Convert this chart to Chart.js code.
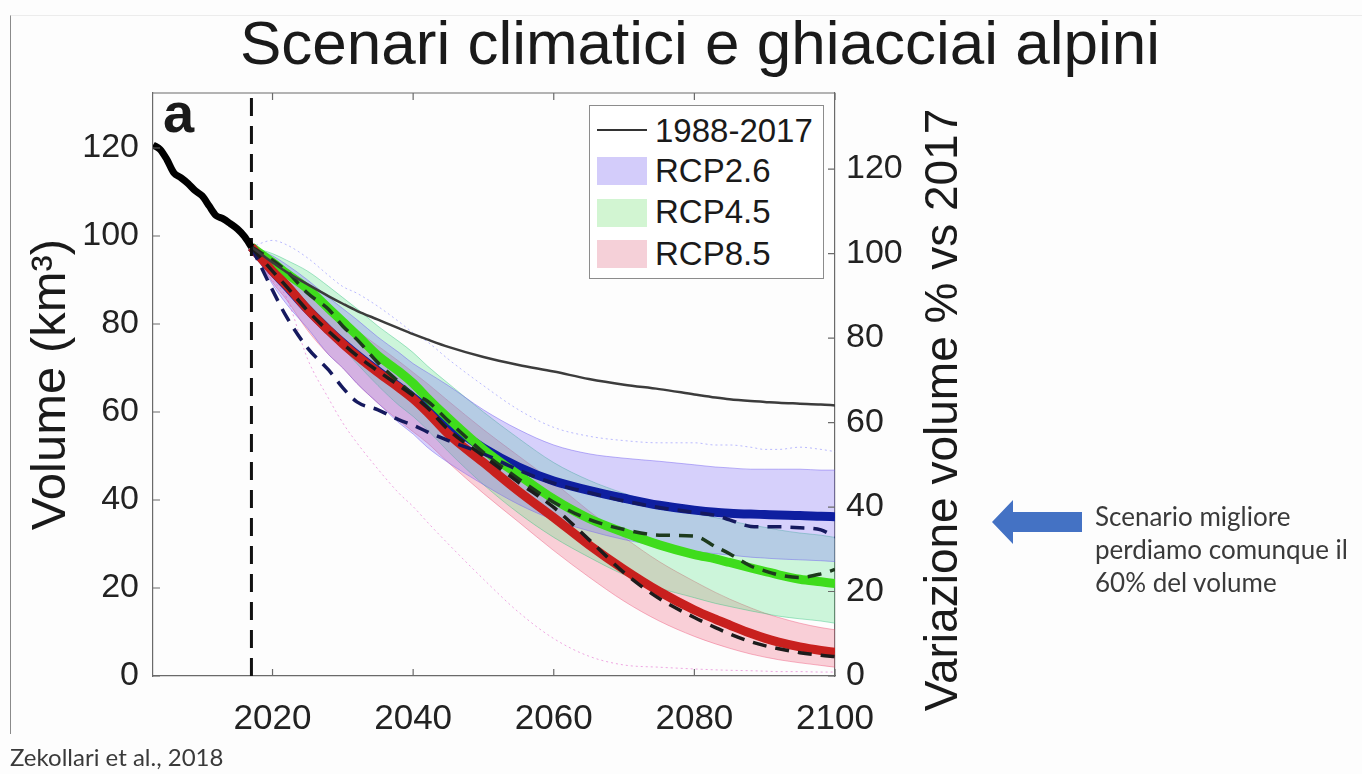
<!DOCTYPE html>
<html lang="it">
<head>
<meta charset="utf-8">
<title>Scenari climatici e ghiacciai alpini</title>
<script src="https://cdn.jsdelivr.net/npm/chart.js@4.4.1/dist/chart.umd.min.js"></script>
<style>
  body { margin: 0; background: #fdfdfd; }
  #slide { position: relative; width: 1362px; height: 774px; overflow: hidden;
           font-family: 'Liberation Sans', Arial, sans-serif; color: #1a1a1a; }
  #slide canvas { position: absolute; left: 0; top: 0; }
  .frame { position: absolute; left: 10px; top: 15px; right: 0; height: 718px;
           border-left: 1.5px solid #8a8a8a; border-top: 1px solid #ececec; }
  h1 { position: absolute; margin: 0; left: 200px; width: 1000px; top: 12px;
       font-weight: normal; font-size: 62px; line-height: 62px; text-align: center; }
  .panel { position: absolute; left: 163px; top: 85px; font-weight: bold; font-size: 56px; line-height: 56px; }
  #legend { position: absolute; left: 589px; top: 105px; width: 233px; height: 172px;
            border: 1px solid #8c8c8c; background: #fff; }
  #legend .txt { position: absolute; left: 65px; font-size: 33px; line-height: 33px; white-space: nowrap; }
  #legend .sw { position: absolute; left: 7px; width: 50px; height: 28px; }
  #legend .ln { position: absolute; left: 7px; top: 23px; width: 50px; height: 2px; background: #333; }
  .ytitle2 { position: absolute; left: 941px; top: 410px; width: 640px; height: 46px;
             font-size: 46px; line-height: 46px; text-align: center; white-space: nowrap;
             transform: translate(-50%, -50%) rotate(-90deg); }
  .note { position: absolute; left: 1095px; top: 500px; font-family: Lato, sans-serif;
          font-size: 26px; line-height: 33px; color: #3a3a3a; }
  .source { position: absolute; left: 10px; top: 745px; font-family: Lato, sans-serif;
            font-size: 24px; line-height: 24px; color: #3a3a3a; }
  svg.arrow { position: absolute; left: 990px; top: 498px; }
</style>
</head>
<body>
<div id="slide">
  <div class="frame"></div>
  <canvas id="glacierChart" width="1362" height="774"></canvas>
  <h1>Scenari climatici e ghiacciai alpini</h1>
  <div class="panel">a</div>
  <div id="legend">
    <div class="ln"></div><div class="txt" style="top:8px">1988-2017</div>
    <div class="sw" style="top:51px;background:#d3ccfa"></div><div class="txt" style="top:48px">RCP2.6</div>
    <div class="sw" style="top:93px;background:#d2f5d2"></div><div class="txt" style="top:89px">RCP4.5</div>
    <div class="sw" style="top:134px;background:#f5d0d8"></div><div class="txt" style="top:131px">RCP8.5</div>
  </div>
  <div class="ytitle2">Variazione volume % vs 2017</div>
  <svg class="arrow" width="95" height="48"><polygon points="2,24 23,2 23,14 92,14 92,34 23,34 23,46" fill="#4472c4"/></svg>
  <div class="note">Scenario migliore<br>perdiamo comunque il<br>60% del volume</div>
  <div class="source">Zekollari et al., 2018</div>
</div>
<script>
// observed volume (km3)
const histYears = [2003, 2004, 2005, 2006, 2007, 2008, 2009, 2010, 2011, 2012, 2013, 2014, 2015, 2016, 2017];
const histVolume = [120.7, 119.7, 117.3, 114.3, 113.2, 111.9, 110.3, 109.1, 106.8, 104.6, 103.9, 102.8, 101.6, 99.9, 97.5];

// projections
const projYears = [2017, 2020, 2022, 2025, 2028, 2030, 2032, 2035, 2038, 2040, 2042, 2045, 2050, 2055, 2060, 2065, 2070, 2075, 2080, 2083, 2085, 2088, 2090, 2092, 2095, 2098, 2100];
const trend8817 = [97.5, 94, 91.8, 89, 86.3, 84.6, 83, 81, 79, 77.7, 76.5, 74.8, 72.5, 70.7, 69.2, 67.5, 66.2, 65.2, 64, 63.3, 62.9, 62.5, 62.3, 62.1, 61.9, 61.7, 61.5];

const rcp26Mean = [97.5, 92, 88.6, 83.3, 78.6, 75.7, 73, 69.3, 65.7, 63.3, 60.8, 57.3, 51.8, 47.5, 44.3, 42.2, 40.4, 38.8, 37.7, 37.2, 37, 36.8, 36.7, 36.6, 36.5, 36.3, 36.2];
const rcp26Dash = [97.5, 87.7, 81.6, 74.5, 69.5, 65.5, 62.3, 60.5, 58.2, 57, 55.5, 53.5, 50.5, 46.8, 43.8, 41.7, 39.8, 38.3, 37.2, 36.5, 35.5, 34, 33.9, 33.9, 33.7, 33.2, 31.6];
const rcp26Upper = [97.5, 95.5, 93.5, 90, 86, 83.5, 81, 77, 73.5, 71, 69, 66, 60.5, 56, 52.5, 50.5, 49.5, 48.8, 48, 47.5, 47.3, 47, 47, 47, 47, 46.8, 46.8];
const rcp26Lower = [97.5, 89, 84.5, 79, 73, 70, 66.5, 62, 57.5, 55, 52, 48.5, 43.5, 39, 35.5, 33, 31, 29.5, 28.3, 27.8, 27.5, 27, 26.8, 26.6, 26.4, 26.2, 26];

const rcp45Mean = [97.5, 94, 91.5, 88, 83.5, 80.5, 77.5, 72.8, 69.2, 66.5, 63.2, 58.6, 51.5, 45.7, 40.2, 35.8, 32.6, 29.8, 27.6, 26.6, 25.8, 24.6, 23.8, 23, 22, 21.4, 21];
const rcp45Dash = [97.5, 94.5, 92, 87, 83.3, 79.5, 76.5, 71.2, 66.8, 64, 62.5, 58, 50.8, 44.8, 39.5, 35.6, 33.3, 32, 31.8, 29.4, 27.8, 25, 23.9, 23, 22.4, 23.2, 24.2];
const rcp45Upper = [97.5, 96, 94.5, 92, 88.5, 86, 83.5, 79.5, 76, 73.5, 70.5, 66.5, 60, 54, 48.5, 44.5, 41.5, 39, 37, 36, 35.3, 34.3, 33.8, 33.2, 32.5, 32, 31.5];
const rcp45Lower = [97.5, 91.5, 88, 83, 78, 74.5, 71, 66, 61.5, 59, 56, 51, 43.5, 37, 31.5, 27, 23, 20, 17.8, 16.5, 15.8, 14.8, 14.2, 13.6, 13, 12.5, 12];

const rcp85Mean = [97.5, 92, 88.8, 83.3, 78.5, 75.5, 72.8, 69, 65.5, 63, 60, 55, 48.5, 42, 36, 29.8, 24.2, 19.2, 15, 12.9, 11.6, 9.7, 8.6, 7.7, 6.6, 5.8, 5.4];
const rcp85Dash = [97.5, 92, 88.5, 83, 78.3, 75.5, 72.8, 69.3, 66, 63.7, 61, 56, 50, 44, 38.3, 31, 23.5, 17.6, 13.3, 11, 9.6, 7.8, 6.9, 6.2, 5.3, 4.7, 4.4];
const rcp85Upper = [97.5, 94.5, 92, 88, 83.5, 81, 78.5, 75, 71.5, 69, 66.5, 62.5, 56, 50, 44, 37.5, 31.5, 26, 21.5, 19, 17.5, 15.5, 14.3, 13.3, 12, 11, 10.5];
const rcp85Lower = [97.5, 89.5, 85.5, 78.5, 73, 70, 66.5, 62, 58, 55.5, 53, 48.5, 41.5, 35, 28.5, 22.5, 17, 12.5, 9, 7.3, 6.3, 5, 4.3, 3.7, 3, 2.4, 2];

// outermost single runs (thin faint lines)
const runHigh = [97.5, 99, 98, 95, 91, 88.5, 87, 84, 80.5, 78, 76, 72, 66, 60.5, 56.5, 54.5, 53.5, 53, 53, 52.5, 52.5, 52, 51.5, 51.5, 52, 51.5, 51];
const runLow = [97.5, 90, 86, 72, 63, 57.5, 53, 47, 41.5, 38.5, 35, 30, 22, 14.5, 8.5, 4.5, 2.5, 2, 1.6, 1.4, 1.3, 1.2, 1.1, 1, 1, 0.9, 0.9];

const refYear = 2017;
const refVolume = 96; // km3 = 100 %
const xRange = [2003, 2100];
const yRange = [0, 132.5];
const xTicks = [2020, 2040, 2060, 2080, 2100];
const yTicks = [0, 20, 40, 60, 80, 100, 120];
const pctTicks = [0, 20, 40, 60, 80, 100, 120];

const axisColor = '#6a6a6a';
const pts = (xs, ys) => ys.map((y, i) => ({x: xs[i], y: y}));

function line(label, xs, ys, color, width, extra) {
  return Object.assign({
    label: label,
    data: pts(xs, ys),
    borderColor: color,
    borderWidth: width,
    pointRadius: 0,
    fill: false,
    cubicInterpolationMode: 'monotone'
  }, extra);
}

// inward tick marks and the top edge of the box, like the original figure
const boxTicks = {
  id: 'boxTicks',
  afterDraw(chart) {
    const {ctx, chartArea: a, scales} = chart;
    ctx.save();
    ctx.strokeStyle = axisColor;
    ctx.lineWidth = 1.2;
    ctx.beginPath();
    ctx.moveTo(a.left, a.top);
    ctx.lineTo(a.right, a.top);
    scales.x.ticks.forEach(t => {
      const px = scales.x.getPixelForValue(t.value);
      ctx.moveTo(px, a.bottom); ctx.lineTo(px, a.bottom - 7);
      ctx.moveTo(px, a.top); ctx.lineTo(px, a.top + 7);
    });
    scales.y.ticks.forEach(t => {
      const py = scales.y.getPixelForValue(t.value);
      ctx.moveTo(a.left, py); ctx.lineTo(a.left + 7, py);
    });
    scales.y2.ticks.forEach(t => {
      const py = scales.y2.getPixelForValue(t.value);
      ctx.moveTo(a.right, py); ctx.lineTo(a.right - 7, py);
    });
    ctx.stroke();
    ctx.restore();
  }
};

Chart.defaults.font.family = "'Liberation Sans', Arial, sans-serif";
Chart.defaults.color = '#1e1e1e';

const ctx = document.getElementById('glacierChart').getContext('2d');
new Chart(ctx, {
  type: 'line',
  data: {
    datasets: [
      line('Osservato', histYears, histVolume, '#000', 7, {order: 1, cubicInterpolationMode: 'default', tension: 0.3}),
      {
        label: '2017',
        data: [{x: refYear, y: yRange[0]}, {x: refYear, y: yRange[1]}],
        borderColor: '#111', borderWidth: 3, borderDash: [18, 10], pointRadius: 0, order: 2
      },
      line('1988-2017', projYears, trend8817, '#3c3c3c', 2.5, {order: 3}),
      line('RCP8.5 alt', projYears, rcp85Dash, '#1c1c1c', 3.5, {borderDash: [14, 9], order: 4}),
      line('RCP4.5 alt', projYears, rcp45Dash, '#1d3a1d', 3.5, {borderDash: [14, 9], order: 4}),
      line('RCP2.6 alt', projYears, rcp26Dash, '#15195e', 3.5, {borderDash: [14, 9], order: 4}),
      line('RCP8.5', projYears, rcp85Mean, '#c8201e', 9, {order: 5}),
      line('RCP4.5', projYears, rcp45Mean, '#3fdc1c', 9, {order: 6}),
      line('RCP2.6', projYears, rcp26Mean, '#0f1fa0', 9, {order: 7}),
      line('run max', projYears, runHigh, 'rgba(120,120,255,0.5)', 1, {borderDash: [2, 3], order: 8}),
      line('run min', projYears, runLow, 'rgba(225,80,200,0.5)', 1, {borderDash: [2, 3], order: 8}),
      line('RCP2.6 max', projYears, rcp26Upper, 'rgba(110,90,240,0.45)', 1, {order: 9}),
      line('RCP2.6 min', projYears, rcp26Lower, 'rgba(110,90,240,0.45)', 1, {order: 9, fill: '-1', backgroundColor: 'rgba(125,105,250,0.3)'}),
      line('RCP4.5 max', projYears, rcp45Upper, 'rgba(40,190,120,0.4)', 1, {order: 10}),
      line('RCP4.5 min', projYears, rcp45Lower, 'rgba(40,190,120,0.4)', 1, {order: 10, fill: '-1', backgroundColor: 'rgba(80,225,130,0.28)'}),
      line('RCP8.5 max', projYears, rcp85Upper, 'rgba(235,70,110,0.4)', 1, {order: 11}),
      line('RCP8.5 min', projYears, rcp85Lower, 'rgba(235,70,110,0.4)', 1, {order: 11, fill: '-1', backgroundColor: 'rgba(240,90,120,0.28)'})
    ]
  },
  options: {
    responsive: false,
    animation: false,
    events: [],
    layout: { padding: {top: 93, left: 0, right: 0, bottom: 0} },
    plugins: {
      legend: { display: false },
      title: { display: false },
      tooltip: { enabled: false }
    },
    scales: {
      x: {
        type: 'linear',
        min: xRange[0],
        max: xRange[1],
        grid: { display: false, drawTicks: false },
        border: { display: true, color: axisColor, width: 1.2 },
        ticks: { font: {size: 35}, color: '#222', padding: 22, maxRotation: 0, callback: v => String(v) },
        afterBuildTicks: s => { s.ticks = xTicks.map(v => ({value: v})); },
        afterFit: s => { s.height = 98; }
      },
      y: {
        position: 'left',
        min: yRange[0],
        max: yRange[1],
        grid: { display: false, drawTicks: false },
        border: { display: true, color: axisColor, width: 1.2 },
        ticks: { font: {size: 34}, color: '#222', padding: 14 },
        title: { display: true, text: 'Volume (km³)', font: {size: 49}, color: '#1a1a1a', padding: {top: 22, bottom: 0} },
        afterBuildTicks: s => { s.ticks = yTicks.map(v => ({value: v})); },
        afterFit: s => { s.width = 153; }
      },
      y2: {
        position: 'right',
        min: 0,
        max: yRange[1] / refVolume * 100,
        grid: { display: false, drawTicks: false },
        border: { display: true, color: axisColor, width: 1.2 },
        ticks: { font: {size: 34}, color: '#222', padding: 11 },
        afterBuildTicks: s => { s.ticks = pctTicks.map(v => ({value: v})); },
        afterFit: s => { s.width = 1362 - 835; }
      }
    }
  },
  plugins: [boxTicks]
});
</script>
</body>
</html>
